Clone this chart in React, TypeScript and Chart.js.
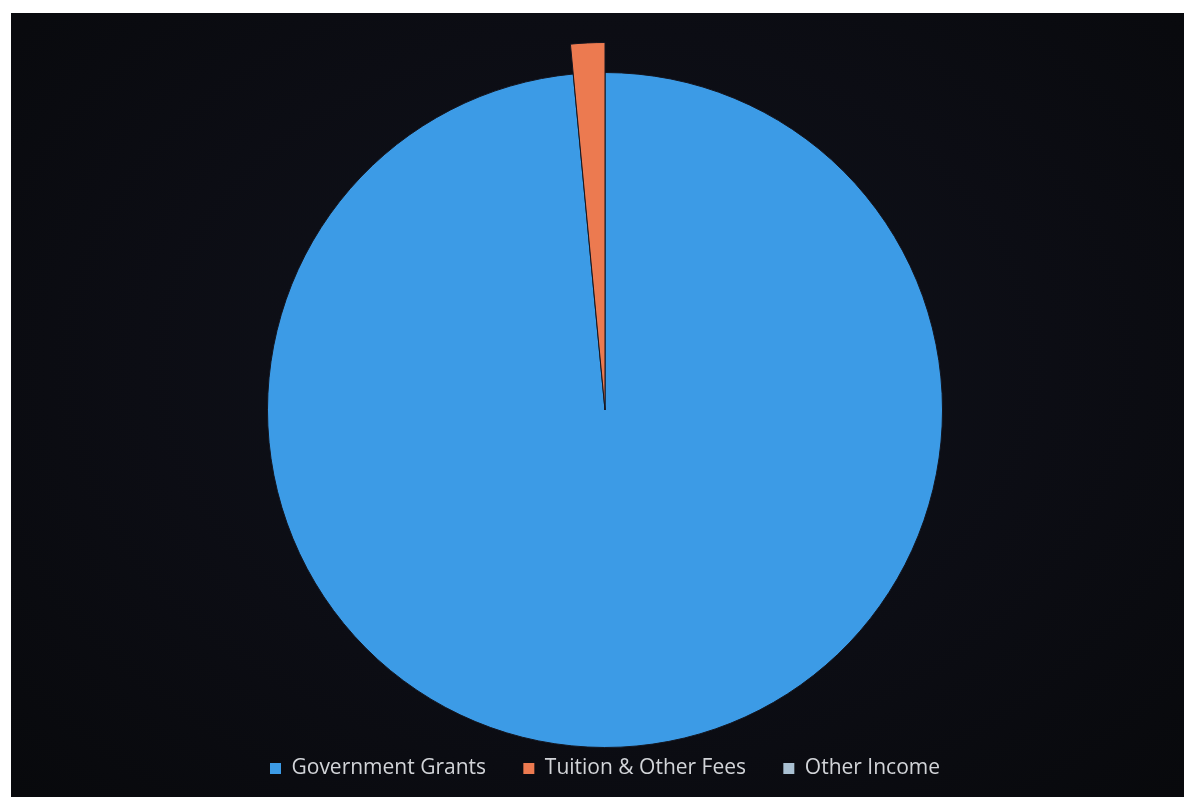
import React, { useEffect, useRef } from "react";
import { Chart, registerables } from "chart.js";

Chart.register(...registerables);

const categories = ["Government Grants", "Tuition & Other Fees", "Other Income"];
const shares = [98.5, 1.5, 0];
const sliceColors = ["#3c9be6", "#ec7a50", "#a9c0d2"];
const sliceExtra = [0, 30, 0];
const labelGapSpaces = "     ";

const extendPlugin = {
  id: "extendSlice",
  afterDatasetsUpdate(chart: any) {
    const meta = chart.getDatasetMeta(0);
    const base = meta.controller.outerRadius;
    meta.data.forEach((el: any, i: number) => {
      el.outerRadius = base + (sliceExtra[i] || 0);
    });
  },
};

export default function App() {
  const ref = useRef<HTMLCanvasElement>(null);
  useEffect(() => {
    const chart = new Chart(ref.current!, {
      type: "pie",
      data: {
        labels: categories,
        datasets: [
          {
            data: shares,
            backgroundColor: sliceColors,
            borderColor: "#141620",
            borderWidth: 1,
          },
        ],
      },
      plugins: [extendPlugin],
      options: {
        animation: false,
        responsive: false,
        layout: { padding: { top: 59, left: 15, right: 0, bottom: 8 } },
        plugins: {
          tooltip: { enabled: false },
          legend: {
            position: "bottom",
            labels: {
              color: "#d2d4d8",
              font: { family: "'Open Sans', 'Noto Sans', sans-serif", size: 21 },
              boxWidth: 11,
              boxHeight: 11,
              padding: 10,
              generateLabels: (c: any) => {
                const base = Chart.overrides.pie.plugins.legend.labels.generateLabels(c);
                return base.map((it: any, i: number) => ({
                  ...it,
                  text: i < base.length - 1 ? it.text + labelGapSpaces : it.text,
                  fontColor: "#d2d4d8",
                  lineWidth: 0,
                }));
              },
            },
          },
        },
      },
    });
    return () => chart.destroy();
  }, []);

  return (
    <div
      style={{
        position: "fixed",
        left: 11,
        top: 13,
        right: 0,
        bottom: 0,
        background: "radial-gradient(ellipse at 50% 45%, #10131c 0%, #0c0d14 55%, #08090c 100%)",
        overflow: "hidden",
      }}
    >
      <canvas ref={ref} width={1173} height={784} style={{ display: "block" }} />
    </div>
  );
}
